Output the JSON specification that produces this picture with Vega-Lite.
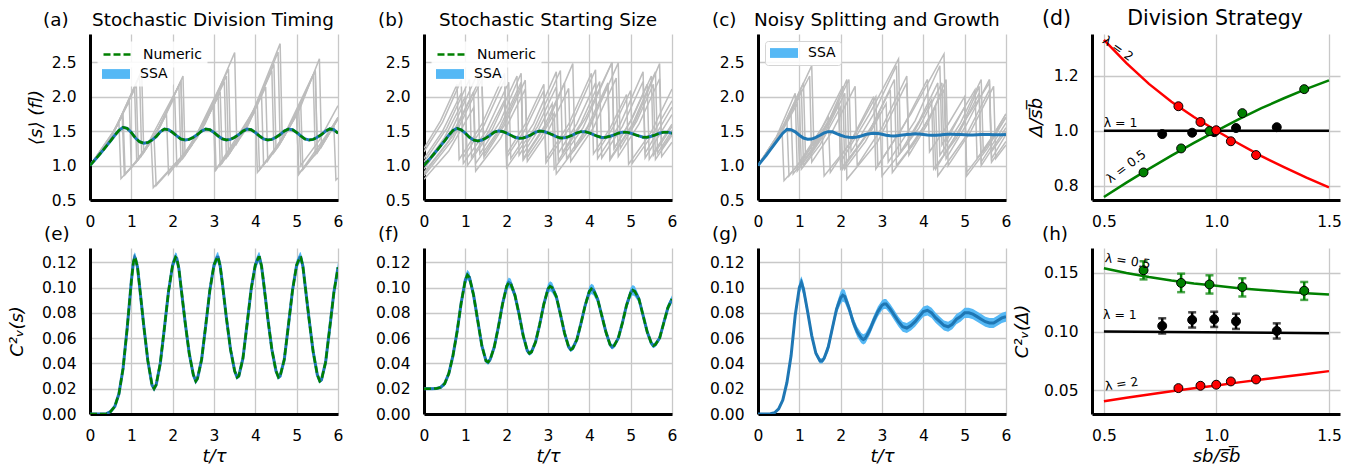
{
"$schema":"https://vega.github.io/schema/vega-lite/v6.json",
"padding":{"left":8,"top":8,"right":0,"bottom":0},
"config":{
 "font":"DejaVu Sans",
 "view":{"stroke":null},
 "axis":{"domainColor":"#000000","domainWidth":3,"ticks":false,"tickSize":0,"gridColor":"#c8c8c8","gridWidth":1.3,"labelFontSize":15.5,"labelColor":"#000000","labelPadding":14,"titleFontSize":18,"titleFontWeight":"normal","titleColor":"#000000","titleFontStyle":"italic","labelFlush":false,"labelOverlap":false,"titlePadding":8},
 "title":{"fontSize":18.4,"fontWeight":"normal","color":"#000000","anchor":"start","frame":"group","offset":5,"baseline":"alphabetic"},
 "legend":{"fillColor":"rgba(255,255,255,0.85)","strokeColor":"#d4d4d4","cornerRadius":3,"padding":5,"rowPadding":7,"labelOffset":17,"symbolOffset":7,"labelFontSize":14,"labelColor":"#000000","symbolSize":196},
 "line":{"strokeCap":"butt"}
},
"datasets":{
"trajA":[
{"k":1,"t":0,"v":1},{"k":1,"t":0.4,"v":1.32},{"k":1,"t":0.78,"v":1.72},{"k":1,"t":0.83,"v":0.86},{"k":1,"t":1.16,"v":1.08},{"k":1,"t":1.48,"v":1.35},{"k":1,"t":1.53,"v":0.68},{"k":1,"t":2.44,"v":1.28},{"k":1,"t":3.35,"v":2.4},{"k":1,"t":3.4,"v":1.2},{"k":1,"t":4.15,"v":2.02},{"k":1,"t":4.2,"v":1.01},{"k":1,"t":4.65,"v":1.37},{"k":1,"t":5.1,"v":1.87},{"k":1,"t":5.15,"v":0.94},{"k":1,"t":5.58,"v":1.26},{"k":1,"t":6,"v":1.68},
{"k":2,"t":0,"v":1},{"k":2,"t":0.54,"v":1.45},{"k":2,"t":1.08,"v":2.11},{"k":2,"t":1.13,"v":1.06},{"k":2,"t":1.66,"v":1.54},{"k":2,"t":2.2,"v":2.23},{"k":2,"t":2.25,"v":1.12},{"k":2,"t":2.98,"v":1.86},{"k":2,"t":3.03,"v":0.93},{"k":2,"t":3.82,"v":1.6},{"k":2,"t":4.6,"v":2.77},{"k":2,"t":4.65,"v":1.38},{"k":2,"t":5.4,"v":2.32},{"k":2,"t":5.45,"v":1.16},{"k":2,"t":6,"v":1.7},
{"k":3,"t":0,"v":1},{"k":3,"t":0.6,"v":1.52},{"k":3,"t":1.2,"v":2.3},{"k":3,"t":1.25,"v":1.15},{"k":3,"t":2.2,"v":2.22},{"k":3,"t":2.25,"v":1.11},{"k":3,"t":2.7,"v":1.52},{"k":3,"t":3.15,"v":2.07},{"k":3,"t":3.2,"v":1.04},{"k":3,"t":3.83,"v":1.6},{"k":3,"t":4.45,"v":2.47},{"k":3,"t":4.5,"v":1.24},{"k":3,"t":5,"v":1.75},{"k":3,"t":5.05,"v":0.88},{"k":3,"t":5.53,"v":1.23},{"k":3,"t":6,"v":1.7},
{"k":4,"t":0,"v":1},{"k":4,"t":0.48,"v":1.39},{"k":4,"t":0.95,"v":1.93},{"k":4,"t":1,"v":0.97},{"k":4,"t":1.58,"v":1.45},{"k":4,"t":2.15,"v":2.16},{"k":4,"t":2.2,"v":1.08},{"k":4,"t":3,"v":1.88},{"k":4,"t":3.05,"v":0.94},{"k":4,"t":4.05,"v":1.88},{"k":4,"t":4.1,"v":0.94},{"k":4,"t":4.78,"v":1.5},{"k":4,"t":5.45,"v":2.38},{"k":4,"t":5.5,"v":1.19},{"k":4,"t":6,"v":1.68},
{"k":5,"t":0,"v":1},{"k":5,"t":0.56,"v":1.47},{"k":5,"t":1.12,"v":2.17},{"k":5,"t":1.17,"v":1.09},{"k":5,"t":1.71,"v":1.58},{"k":5,"t":2.25,"v":2.3},{"k":5,"t":2.3,"v":1.15},{"k":5,"t":2.78,"v":1.6},{"k":5,"t":3.25,"v":2.22},{"k":5,"t":3.3,"v":1.11},{"k":5,"t":3.78,"v":1.53},{"k":5,"t":4.25,"v":2.14},{"k":5,"t":4.3,"v":1.07},{"k":5,"t":5,"v":1.74},{"k":5,"t":5.05,"v":0.87},{"k":5,"t":6,"v":1.68},
{"k":6,"t":0,"v":1},{"k":6,"t":0.4,"v":1.32},{"k":6,"t":0.8,"v":1.74},{"k":6,"t":0.85,"v":0.87},{"k":6,"t":1.2,"v":1.11},{"k":6,"t":1.55,"v":1.41},{"k":6,"t":1.6,"v":0.71},{"k":6,"t":2.45,"v":1.28},{"k":6,"t":3.3,"v":2.3},{"k":6,"t":3.35,"v":1.15},{"k":6,"t":3.95,"v":1.75},{"k":6,"t":4.55,"v":2.65},{"k":6,"t":4.6,"v":1.32},{"k":6,"t":5.08,"v":1.83},{"k":6,"t":5.55,"v":2.55},{"k":6,"t":5.6,"v":1.27},{"k":6,"t":6,"v":1.68},
{"k":7,"t":0,"v":1},{"k":7,"t":0.35,"v":1.27},{"k":7,"t":0.7,"v":1.62},{"k":7,"t":0.75,"v":0.81},{"k":7,"t":1.3,"v":1.19},{"k":7,"t":1.85,"v":1.74},{"k":7,"t":1.9,"v":0.87},{"k":7,"t":2.7,"v":1.52},{"k":7,"t":3.5,"v":2.64},{"k":7,"t":3.55,"v":1.32},{"k":7,"t":4,"v":1.8},{"k":7,"t":4.05,"v":0.9},{"k":7,"t":4.55,"v":1.27},{"k":7,"t":5.05,"v":1.8},{"k":7,"t":5.1,"v":1},{"k":7,"t":5.55,"v":1.37},{"k":7,"t":6,"v":1.87},
{"k":8,"t":0,"v":1},{"k":8,"t":0.63,"v":1.55},{"k":8,"t":1.25,"v":2.38},{"k":8,"t":1.3,"v":1.19},{"k":8,"t":1.68,"v":1.55},{"k":8,"t":2.05,"v":2},{"k":8,"t":2.1,"v":1},{"k":8,"t":2.6,"v":1.41},{"k":8,"t":3.1,"v":2},{"k":8,"t":3.15,"v":1},{"k":8,"t":3.78,"v":1.55},{"k":8,"t":4.4,"v":2.38},{"k":8,"t":4.45,"v":1.19},{"k":8,"t":4.95,"v":1.68},{"k":8,"t":5.45,"v":2.38},{"k":8,"t":5.5,"v":1.19},{"k":8,"t":5.9,"v":1.57},{"k":8,"t":5.95,"v":0.79},{"k":8,"t":6,"v":0.82}
],
"trajB":[
{"k":1,"t":0,"v":0.8},{"k":1,"t":0.6,"v":1.21},{"k":1,"t":1.2,"v":1.84},{"k":1,"t":1.25,"v":0.92},{"k":1,"t":1.85,"v":1.39},{"k":1,"t":2.45,"v":2.11},{"k":1,"t":2.5,"v":1.06},{"k":1,"t":3,"v":1.5},{"k":1,"t":3.5,"v":2.12},{"k":1,"t":3.55,"v":1.06},{"k":1,"t":4.1,"v":1.55},{"k":1,"t":4.65,"v":2.27},{"k":1,"t":4.7,"v":1.13},{"k":1,"t":5.2,"v":1.6},{"k":1,"t":5.7,"v":2.26},{"k":1,"t":5.75,"v":1.13},{"k":1,"t":6,"v":1.34},
{"k":2,"t":0,"v":0.9},{"k":2,"t":0.6,"v":1.36},{"k":2,"t":1.2,"v":2.07},{"k":2,"t":1.25,"v":1.03},{"k":2,"t":1.8,"v":1.51},{"k":2,"t":2.35,"v":2.21},{"k":2,"t":2.4,"v":1.1},{"k":2,"t":2.9,"v":1.56},{"k":2,"t":3.4,"v":2.2},{"k":2,"t":3.45,"v":1.1},{"k":2,"t":3.95,"v":1.56},{"k":2,"t":4.45,"v":2.2},{"k":2,"t":4.5,"v":1.1},{"k":2,"t":5.05,"v":1.61},{"k":2,"t":5.6,"v":2.36},{"k":2,"t":5.65,"v":1.18},{"k":2,"t":6,"v":1.51},
{"k":3,"t":0,"v":1},{"k":3,"t":0.5,"v":1.41},{"k":3,"t":1,"v":2},{"k":3,"t":1.05,"v":1},{"k":3,"t":1.65,"v":1.52},{"k":3,"t":2.25,"v":2.3},{"k":3,"t":2.3,"v":1.15},{"k":3,"t":2.75,"v":1.57},{"k":3,"t":3.2,"v":2.14},{"k":3,"t":3.25,"v":1.07},{"k":3,"t":3.9,"v":1.68},{"k":3,"t":4.55,"v":2.5},{"k":3,"t":4.6,"v":1.25},{"k":3,"t":5,"v":1.65},{"k":3,"t":5.4,"v":2.18},{"k":3,"t":5.45,"v":1.09},{"k":3,"t":6,"v":1.6},
{"k":4,"t":0,"v":1.1},{"k":4,"t":0.45,"v":1.5},{"k":4,"t":0.9,"v":2.05},{"k":4,"t":0.95,"v":1.03},{"k":4,"t":1.5,"v":1.5},{"k":4,"t":2.05,"v":2.21},{"k":4,"t":2.1,"v":1.1},{"k":4,"t":2.65,"v":1.61},{"k":4,"t":3.2,"v":2.36},{"k":4,"t":3.25,"v":1.18},{"k":4,"t":3.7,"v":1.61},{"k":4,"t":4.15,"v":2.2},{"k":4,"t":4.2,"v":1.1},{"k":4,"t":4.75,"v":1.61},{"k":4,"t":5.3,"v":2.36},{"k":4,"t":5.35,"v":1.18},{"k":4,"t":6,"v":1.85},
{"k":5,"t":0,"v":1.2},{"k":5,"t":0.45,"v":1.63},{"k":5,"t":0.9,"v":2.24},{"k":5,"t":0.95,"v":1.12},{"k":5,"t":1.45,"v":1.58},{"k":5,"t":1.95,"v":2.24},{"k":5,"t":2,"v":1.12},{"k":5,"t":2.45,"v":1.53},{"k":5,"t":2.9,"v":2.09},{"k":5,"t":2.95,"v":1.04},{"k":5,"t":3.55,"v":1.58},{"k":5,"t":4.15,"v":2.39},{"k":5,"t":4.2,"v":1.2},{"k":5,"t":4.6,"v":1.58},{"k":5,"t":5,"v":2.09},{"k":5,"t":5.05,"v":1.04},{"k":5,"t":5.55,"v":1.47},{"k":5,"t":6,"v":1.94},
{"k":6,"t":0,"v":0.85},{"k":6,"t":0.7,"v":1.38},{"k":6,"t":1.4,"v":2.25},{"k":6,"t":1.45,"v":1.12},{"k":6,"t":1.95,"v":1.59},{"k":6,"t":2.45,"v":2.24},{"k":6,"t":2.5,"v":1.12},{"k":6,"t":2.83,"v":1.41},{"k":6,"t":3.15,"v":1.76},{"k":6,"t":3.2,"v":0.88},{"k":6,"t":3.95,"v":1.48},{"k":6,"t":4.7,"v":2.49},{"k":6,"t":4.75,"v":1.25},{"k":6,"t":5.15,"v":1.65},{"k":6,"t":5.55,"v":2.18},{"k":6,"t":5.6,"v":1.09},{"k":6,"t":6,"v":1.44},
{"k":7,"t":0,"v":0.95},{"k":7,"t":0.65,"v":1.49},{"k":7,"t":1.3,"v":2.34},{"k":7,"t":1.35,"v":1.17},{"k":7,"t":1.85,"v":1.65},{"k":7,"t":2.35,"v":2.34},{"k":7,"t":2.4,"v":1.17},{"k":7,"t":2.75,"v":1.5},{"k":7,"t":3.1,"v":1.9},{"k":7,"t":3.15,"v":0.95},{"k":7,"t":3.85,"v":1.55},{"k":7,"t":4.55,"v":2.5},{"k":7,"t":4.6,"v":1.25},{"k":7,"t":5.05,"v":1.7},{"k":7,"t":5.5,"v":2.3},{"k":7,"t":5.55,"v":1.15},{"k":7,"t":6,"v":1.57},
{"k":8,"t":0,"v":1.05},{"k":8,"t":0.55,"v":1.54},{"k":8,"t":1.1,"v":2.25},{"k":8,"t":1.15,"v":1.12},{"k":8,"t":1.55,"v":1.48},{"k":8,"t":1.95,"v":1.95},{"k":8,"t":2,"v":0.97},{"k":8,"t":2.65,"v":1.52},{"k":8,"t":3.3,"v":2.38},{"k":8,"t":3.35,"v":1.19},{"k":8,"t":3.8,"v":1.62},{"k":8,"t":4.25,"v":2.22},{"k":8,"t":4.3,"v":1.11},{"k":8,"t":4.8,"v":1.57},{"k":8,"t":5.3,"v":2.22},{"k":8,"t":5.35,"v":1.11},{"k":8,"t":6,"v":1.74},
{"k":9,"t":0,"v":1.25},{"k":9,"t":0.4,"v":1.65},{"k":9,"t":0.8,"v":2.18},{"k":9,"t":0.85,"v":1.09},{"k":9,"t":1.4,"v":1.6},{"k":9,"t":1.95,"v":2.34},{"k":9,"t":2,"v":1.17},{"k":9,"t":2.45,"v":1.6},{"k":9,"t":2.9,"v":2.18},{"k":9,"t":2.95,"v":1.09},{"k":9,"t":3.5,"v":1.6},{"k":9,"t":4.05,"v":2.34},{"k":9,"t":4.1,"v":1.17},{"k":9,"t":4.5,"v":1.54},{"k":9,"t":4.9,"v":2.03},{"k":9,"t":4.95,"v":1.02},{"k":9,"t":5.5,"v":1.49},{"k":9,"t":6,"v":2.11},
{"k":10,"t":0,"v":0.88},{"k":10,"t":0.7,"v":1.43},{"k":10,"t":1.4,"v":2.32},{"k":10,"t":1.45,"v":1.16},{"k":10,"t":1.9,"v":1.58},{"k":10,"t":2.35,"v":2.16},{"k":10,"t":2.4,"v":1.08},{"k":10,"t":3,"v":1.63},{"k":10,"t":3.6,"v":2.48},{"k":10,"t":3.65,"v":1.24},{"k":10,"t":4.05,"v":1.64},{"k":10,"t":4.45,"v":2.16},{"k":10,"t":4.5,"v":1.08},{"k":10,"t":5.1,"v":1.63},{"k":10,"t":5.7,"v":2.48},{"k":10,"t":5.75,"v":1.24},{"k":10,"t":6,"v":1.47}
],
"trajC":[
{"k":1,"t":0,"v":1},{"k":1,"t":0.45,"v":1.42},{"k":1,"t":0.9,"v":2.05},{"k":1,"t":0.95,"v":0.92},{"k":1,"t":1.45,"v":1.33},{"k":1,"t":1.95,"v":1.9},{"k":1,"t":2,"v":1.05},{"k":1,"t":2.7,"v":1.75},{"k":1,"t":3.4,"v":2.55},{"k":1,"t":3.45,"v":1.2},{"k":1,"t":3.9,"v":1.65},{"k":1,"t":4.35,"v":2.2},{"k":1,"t":4.4,"v":1.15},{"k":1,"t":4.9,"v":1.62},{"k":1,"t":5.4,"v":2.25},{"k":1,"t":5.45,"v":1.2},{"k":1,"t":6,"v":1.7},
{"k":2,"t":0,"v":1},{"k":2,"t":0.3,"v":1.25},{"k":2,"t":0.58,"v":1.55},{"k":2,"t":0.63,"v":0.78},{"k":2,"t":1.1,"v":1.1},{"k":2,"t":1.55,"v":1.5},{"k":2,"t":1.6,"v":0.85},{"k":2,"t":2.2,"v":1.3},{"k":2,"t":2.8,"v":2},{"k":2,"t":2.85,"v":0.95},{"k":2,"t":3.7,"v":1.75},{"k":2,"t":4.5,"v":2.62},{"k":2,"t":4.55,"v":1.35},{"k":2,"t":5,"v":1.85},{"k":2,"t":5.05,"v":0.85},{"k":2,"t":5.55,"v":1.25},{"k":2,"t":6,"v":1.7},
{"k":3,"t":0,"v":1},{"k":3,"t":0.6,"v":1.55},{"k":3,"t":1.3,"v":2.45},{"k":3,"t":1.35,"v":1.3},{"k":3,"t":1.75,"v":1.7},{"k":3,"t":2.15,"v":2.25},{"k":3,"t":2.2,"v":1.1},{"k":3,"t":2.7,"v":1.5},{"k":3,"t":3.2,"v":2.1},{"k":3,"t":3.25,"v":0.9},{"k":3,"t":3.75,"v":1.3},{"k":3,"t":4.25,"v":1.8},{"k":3,"t":4.3,"v":0.95},{"k":3,"t":5,"v":1.65},{"k":3,"t":5.6,"v":2.2},{"k":3,"t":5.65,"v":1.05},{"k":3,"t":6,"v":1.35},
{"k":4,"t":0,"v":1},{"k":4,"t":0.5,"v":1.4},{"k":4,"t":1.05,"v":2.1},{"k":4,"t":1.1,"v":1},{"k":4,"t":1.6,"v":1.45},{"k":4,"t":2.1,"v":2.05},{"k":4,"t":2.15,"v":0.8},{"k":4,"t":2.9,"v":1.35},{"k":4,"t":3.6,"v":2.2},{"k":4,"t":3.65,"v":1.15},{"k":4,"t":4.1,"v":1.6},{"k":4,"t":4.55,"v":2.25},{"k":4,"t":4.6,"v":1},{"k":4,"t":5.15,"v":1.5},{"k":4,"t":5.7,"v":2.15},{"k":4,"t":5.75,"v":1.1},{"k":4,"t":6,"v":1.3},
{"k":5,"t":0,"v":1},{"k":5,"t":0.4,"v":1.3},{"k":5,"t":0.8,"v":1.75},{"k":5,"t":0.85,"v":0.88},{"k":5,"t":1.4,"v":1.3},{"k":5,"t":1.95,"v":1.92},{"k":5,"t":2,"v":0.95},{"k":5,"t":2.45,"v":1.3},{"k":5,"t":2.95,"v":1.75},{"k":5,"t":3,"v":0.85},{"k":5,"t":3.6,"v":1.3},{"k":5,"t":4.2,"v":1.95},{"k":5,"t":4.25,"v":0.95},{"k":5,"t":4.8,"v":1.4},{"k":5,"t":5.35,"v":2.05},{"k":5,"t":5.4,"v":1.05},{"k":5,"t":6,"v":1.62},
{"k":6,"t":0,"v":1},{"k":6,"t":0.55,"v":1.5},{"k":6,"t":1.1,"v":2.2},{"k":6,"t":1.15,"v":1.1},{"k":6,"t":1.65,"v":1.55},{"k":6,"t":2.2,"v":2.25},{"k":6,"t":2.25,"v":1.2},{"k":6,"t":2.8,"v":1.75},{"k":6,"t":3.35,"v":2.45},{"k":6,"t":3.4,"v":1.15},{"k":6,"t":3.9,"v":1.55},{"k":6,"t":4.45,"v":2.2},{"k":6,"t":4.5,"v":1.15},{"k":6,"t":4.95,"v":1.6},{"k":6,"t":5.35,"v":2.15},{"k":6,"t":5.4,"v":1},{"k":6,"t":6,"v":1.55},
{"k":7,"t":0,"v":1},{"k":7,"t":0.35,"v":1.3},{"k":7,"t":0.7,"v":1.65},{"k":7,"t":0.75,"v":0.85},{"k":7,"t":1.2,"v":1.2},{"k":7,"t":1.7,"v":1.7},{"k":7,"t":1.75,"v":0.9},{"k":7,"t":2.3,"v":1.4},{"k":7,"t":2.85,"v":2},{"k":7,"t":2.9,"v":1},{"k":7,"t":3.5,"v":1.55},{"k":7,"t":4.1,"v":2.25},{"k":7,"t":4.15,"v":1.2},{"k":7,"t":4.6,"v":1.6},{"k":7,"t":5,"v":2},{"k":7,"t":5.05,"v":0.9},{"k":7,"t":5.5,"v":1.25},{"k":7,"t":6,"v":1.75},
{"k":8,"t":0,"v":1},{"k":8,"t":0.65,"v":1.6},{"k":8,"t":1.25,"v":2.3},{"k":8,"t":1.3,"v":1.05},{"k":8,"t":1.8,"v":1.5},{"k":8,"t":2.35,"v":2.15},{"k":8,"t":2.4,"v":1},{"k":8,"t":3,"v":1.55},{"k":8,"t":3.6,"v":2.3},{"k":8,"t":3.65,"v":1.25},{"k":8,"t":4.05,"v":1.6},{"k":8,"t":4.5,"v":2.1},{"k":8,"t":4.55,"v":1.1},{"k":8,"t":5.05,"v":1.6},{"k":8,"t":5.6,"v":2.25},{"k":8,"t":5.65,"v":1.2},{"k":8,"t":6,"v":1.5},
{"k":9,"t":0,"v":1},{"k":9,"t":0.45,"v":1.35},{"k":9,"t":0.95,"v":1.9},{"k":9,"t":1,"v":1.05},{"k":9,"t":1.55,"v":1.55},{"k":9,"t":2.05,"v":2.15},{"k":9,"t":2.1,"v":0.95},{"k":9,"t":2.6,"v":1.35},{"k":9,"t":3.1,"v":1.9},{"k":9,"t":3.15,"v":1.05},{"k":9,"t":3.8,"v":1.65},{"k":9,"t":4.4,"v":2.45},{"k":9,"t":4.45,"v":1.3},{"k":9,"t":4.85,"v":1.7},{"k":9,"t":5.25,"v":2.1},{"k":9,"t":5.3,"v":1.1},{"k":9,"t":5.7,"v":1.45},{"k":9,"t":6,"v":1.75},
{"k":10,"t":0,"v":1},{"k":10,"t":0.5,"v":1.45},{"k":10,"t":1,"v":2},{"k":10,"t":1.05,"v":0.95},{"k":10,"t":1.5,"v":1.3},{"k":10,"t":2,"v":1.85},{"k":10,"t":2.05,"v":0.95},{"k":10,"t":2.7,"v":1.5},{"k":10,"t":3.3,"v":2.25},{"k":10,"t":3.35,"v":1},{"k":10,"t":3.8,"v":1.35},{"k":10,"t":4.3,"v":1.85},{"k":10,"t":4.35,"v":0.85},{"k":10,"t":5,"v":1.4},{"k":10,"t":5.6,"v":2.1},{"k":10,"t":5.65,"v":1.1},{"k":10,"t":6,"v":1.45}
],
"meanA":[
{"t":0,"v":1,"lo":0.99,"hi":1.01},{"t":0.1,"v":1.07,"lo":1.06,"hi":1.08},{"t":0.2,"v":1.14,"lo":1.13,"hi":1.15},{"t":0.3,"v":1.21,"lo":1.2,"hi":1.22},{"t":0.4,"v":1.285,"lo":1.275,"hi":1.295},{"t":0.5,"v":1.36,"lo":1.35,"hi":1.37},{"t":0.6,"v":1.44,"lo":1.43,"hi":1.45},{"t":0.7,"v":1.51,"lo":1.5,"hi":1.52},{"t":0.8,"v":1.555,"lo":1.545,"hi":1.565},{"t":0.9,"v":1.54,"lo":1.53,"hi":1.55},
{"t":1,"v":1.48,"lo":1.47,"hi":1.49},{"t":1.1,"v":1.4,"lo":1.39,"hi":1.41},{"t":1.2,"v":1.345,"lo":1.335,"hi":1.355},{"t":1.3,"v":1.325,"lo":1.315,"hi":1.335},{"t":1.4,"v":1.335,"lo":1.325,"hi":1.345},{"t":1.5,"v":1.37,"lo":1.36,"hi":1.38},{"t":1.6,"v":1.42,"lo":1.41,"hi":1.43},{"t":1.7,"v":1.49,"lo":1.48,"hi":1.5},{"t":1.8,"v":1.53,"lo":1.52,"hi":1.54},{"t":1.9,"v":1.52,"lo":1.51,"hi":1.53},
{"t":2,"v":1.48,"lo":1.47,"hi":1.49},{"t":2.1,"v":1.43,"lo":1.42,"hi":1.44},{"t":2.2,"v":1.385,"lo":1.375,"hi":1.395},{"t":2.3,"v":1.372,"lo":1.362,"hi":1.382},{"t":2.4,"v":1.38,"lo":1.37,"hi":1.39},{"t":2.5,"v":1.41,"lo":1.4,"hi":1.42},{"t":2.6,"v":1.45,"lo":1.44,"hi":1.46},{"t":2.7,"v":1.5,"lo":1.49,"hi":1.51},{"t":2.8,"v":1.53,"lo":1.52,"hi":1.54},{"t":2.9,"v":1.52,"lo":1.51,"hi":1.53},
{"t":3,"v":1.48,"lo":1.47,"hi":1.49},{"t":3.1,"v":1.43,"lo":1.42,"hi":1.44},{"t":3.2,"v":1.388,"lo":1.378,"hi":1.398},{"t":3.3,"v":1.373,"lo":1.363,"hi":1.383},{"t":3.4,"v":1.38,"lo":1.37,"hi":1.39},{"t":3.5,"v":1.41,"lo":1.4,"hi":1.42},{"t":3.6,"v":1.45,"lo":1.44,"hi":1.46},{"t":3.7,"v":1.5,"lo":1.49,"hi":1.51},{"t":3.8,"v":1.53,"lo":1.52,"hi":1.54},{"t":3.9,"v":1.52,"lo":1.51,"hi":1.53},
{"t":4,"v":1.48,"lo":1.47,"hi":1.49},{"t":4.1,"v":1.43,"lo":1.42,"hi":1.44},{"t":4.2,"v":1.387,"lo":1.377,"hi":1.397},{"t":4.3,"v":1.372,"lo":1.362,"hi":1.382},{"t":4.4,"v":1.38,"lo":1.37,"hi":1.39},{"t":4.5,"v":1.41,"lo":1.4,"hi":1.42},{"t":4.6,"v":1.45,"lo":1.44,"hi":1.46},{"t":4.7,"v":1.5,"lo":1.49,"hi":1.51},{"t":4.8,"v":1.53,"lo":1.52,"hi":1.54},{"t":4.9,"v":1.52,"lo":1.51,"hi":1.53},
{"t":5,"v":1.48,"lo":1.47,"hi":1.49},{"t":5.1,"v":1.43,"lo":1.42,"hi":1.44},{"t":5.2,"v":1.386,"lo":1.376,"hi":1.396},{"t":5.3,"v":1.372,"lo":1.362,"hi":1.382},{"t":5.4,"v":1.38,"lo":1.37,"hi":1.39},{"t":5.5,"v":1.41,"lo":1.4,"hi":1.42},{"t":5.6,"v":1.45,"lo":1.44,"hi":1.46},{"t":5.7,"v":1.5,"lo":1.49,"hi":1.51},{"t":5.8,"v":1.532,"lo":1.522,"hi":1.542},{"t":5.9,"v":1.52,"lo":1.51,"hi":1.53},{"t":6,"v":1.47,"lo":1.46,"hi":1.48}
],
"meanB":[
{"t":0,"v":1,"lo":0.99,"hi":1.01},{"t":0.1,"v":1.07,"lo":1.06,"hi":1.08},{"t":0.2,"v":1.14,"lo":1.13,"hi":1.15},{"t":0.3,"v":1.21,"lo":1.2,"hi":1.22},{"t":0.4,"v":1.285,"lo":1.275,"hi":1.295},{"t":0.5,"v":1.36,"lo":1.35,"hi":1.37},{"t":0.6,"v":1.44,"lo":1.43,"hi":1.45},{"t":0.7,"v":1.51,"lo":1.5,"hi":1.52},{"t":0.8,"v":1.54,"lo":1.53,"hi":1.55},{"t":0.9,"v":1.52,"lo":1.51,"hi":1.53},
{"t":1,"v":1.47,"lo":1.46,"hi":1.48},{"t":1.1,"v":1.41,"lo":1.4,"hi":1.42},{"t":1.2,"v":1.37,"lo":1.36,"hi":1.38},{"t":1.3,"v":1.358,"lo":1.348,"hi":1.368},{"t":1.4,"v":1.37,"lo":1.36,"hi":1.38},{"t":1.5,"v":1.4,"lo":1.39,"hi":1.41},{"t":1.6,"v":1.44,"lo":1.43,"hi":1.45},{"t":1.7,"v":1.485,"lo":1.475,"hi":1.495},{"t":1.8,"v":1.503,"lo":1.493,"hi":1.513},{"t":1.9,"v":1.495,"lo":1.485,"hi":1.505},
{"t":2,"v":1.47,"lo":1.46,"hi":1.48},{"t":2.1,"v":1.44,"lo":1.43,"hi":1.45},{"t":2.2,"v":1.41,"lo":1.4,"hi":1.42},{"t":2.3,"v":1.397,"lo":1.387,"hi":1.407},{"t":2.4,"v":1.4,"lo":1.39,"hi":1.41},{"t":2.5,"v":1.42,"lo":1.41,"hi":1.43},{"t":2.6,"v":1.45,"lo":1.44,"hi":1.46},{"t":2.7,"v":1.485,"lo":1.475,"hi":1.495},{"t":2.8,"v":1.5,"lo":1.49,"hi":1.51},{"t":2.9,"v":1.495,"lo":1.485,"hi":1.505},
{"t":3,"v":1.475,"lo":1.465,"hi":1.485},{"t":3.1,"v":1.45,"lo":1.44,"hi":1.46},{"t":3.2,"v":1.42,"lo":1.41,"hi":1.43},{"t":3.3,"v":1.4,"lo":1.39,"hi":1.41},{"t":3.4,"v":1.402,"lo":1.392,"hi":1.412},{"t":3.5,"v":1.42,"lo":1.41,"hi":1.43},{"t":3.6,"v":1.445,"lo":1.435,"hi":1.455},{"t":3.7,"v":1.475,"lo":1.465,"hi":1.485},{"t":3.8,"v":1.492,"lo":1.482,"hi":1.502},{"t":3.9,"v":1.49,"lo":1.48,"hi":1.5},
{"t":4,"v":1.475,"lo":1.465,"hi":1.485},{"t":4.1,"v":1.45,"lo":1.44,"hi":1.46},{"t":4.2,"v":1.425,"lo":1.415,"hi":1.435},{"t":4.3,"v":1.408,"lo":1.398,"hi":1.418},{"t":4.4,"v":1.41,"lo":1.4,"hi":1.42},{"t":4.5,"v":1.425,"lo":1.415,"hi":1.435},{"t":4.6,"v":1.445,"lo":1.435,"hi":1.455},{"t":4.7,"v":1.47,"lo":1.46,"hi":1.48},{"t":4.8,"v":1.485,"lo":1.475,"hi":1.495},{"t":4.9,"v":1.485,"lo":1.475,"hi":1.495},
{"t":5,"v":1.47,"lo":1.46,"hi":1.48},{"t":5.1,"v":1.45,"lo":1.44,"hi":1.46},{"t":5.2,"v":1.43,"lo":1.42,"hi":1.44},{"t":5.3,"v":1.412,"lo":1.402,"hi":1.422},{"t":5.4,"v":1.412,"lo":1.402,"hi":1.422},{"t":5.5,"v":1.425,"lo":1.415,"hi":1.435},{"t":5.6,"v":1.445,"lo":1.435,"hi":1.455},{"t":5.7,"v":1.47,"lo":1.46,"hi":1.48},{"t":5.8,"v":1.485,"lo":1.475,"hi":1.495},{"t":5.9,"v":1.485,"lo":1.475,"hi":1.495},{"t":6,"v":1.47,"lo":1.46,"hi":1.48}
],
"meanC":[
{"t":0,"v":1,"lo":0.99,"hi":1.01},{"t":0.1,"v":1.075,"lo":1.065,"hi":1.085},{"t":0.2,"v":1.15,"lo":1.14,"hi":1.16},{"t":0.3,"v":1.23,"lo":1.22,"hi":1.24},{"t":0.4,"v":1.31,"lo":1.3,"hi":1.32},{"t":0.5,"v":1.39,"lo":1.38,"hi":1.4},{"t":0.6,"v":1.47,"lo":1.46,"hi":1.48},{"t":0.7,"v":1.525,"lo":1.515,"hi":1.535},{"t":0.8,"v":1.52,"lo":1.51,"hi":1.53},{"t":0.9,"v":1.49,"lo":1.48,"hi":1.5},
{"t":1,"v":1.44,"lo":1.43,"hi":1.45},{"t":1.1,"v":1.4,"lo":1.39,"hi":1.41},{"t":1.2,"v":1.383,"lo":1.373,"hi":1.393},{"t":1.3,"v":1.385,"lo":1.375,"hi":1.395},{"t":1.4,"v":1.41,"lo":1.4,"hi":1.42},{"t":1.5,"v":1.44,"lo":1.43,"hi":1.45},{"t":1.6,"v":1.475,"lo":1.465,"hi":1.485},{"t":1.7,"v":1.492,"lo":1.482,"hi":1.502},{"t":1.8,"v":1.49,"lo":1.48,"hi":1.5},{"t":1.9,"v":1.465,"lo":1.455,"hi":1.475},
{"t":2,"v":1.44,"lo":1.43,"hi":1.45},{"t":2.1,"v":1.42,"lo":1.41,"hi":1.43},{"t":2.2,"v":1.41,"lo":1.4,"hi":1.42},{"t":2.3,"v":1.408,"lo":1.398,"hi":1.418},{"t":2.4,"v":1.415,"lo":1.405,"hi":1.425},{"t":2.5,"v":1.43,"lo":1.42,"hi":1.44},{"t":2.6,"v":1.45,"lo":1.44,"hi":1.46},{"t":2.7,"v":1.462,"lo":1.452,"hi":1.472},{"t":2.8,"v":1.468,"lo":1.458,"hi":1.478},{"t":2.9,"v":1.465,"lo":1.455,"hi":1.475},
{"t":3,"v":1.455,"lo":1.445,"hi":1.465},{"t":3.1,"v":1.44,"lo":1.43,"hi":1.45},{"t":3.2,"v":1.432,"lo":1.422,"hi":1.442},{"t":3.3,"v":1.43,"lo":1.42,"hi":1.44},{"t":3.4,"v":1.435,"lo":1.425,"hi":1.445},{"t":3.5,"v":1.443,"lo":1.433,"hi":1.453},{"t":3.6,"v":1.45,"lo":1.44,"hi":1.46},{"t":3.7,"v":1.455,"lo":1.445,"hi":1.465},{"t":3.8,"v":1.46,"lo":1.45,"hi":1.47},{"t":3.9,"v":1.458,"lo":1.448,"hi":1.468},
{"t":4,"v":1.452,"lo":1.442,"hi":1.462},{"t":4.1,"v":1.445,"lo":1.435,"hi":1.455},{"t":4.2,"v":1.44,"lo":1.43,"hi":1.45},{"t":4.3,"v":1.44,"lo":1.43,"hi":1.45},{"t":4.4,"v":1.445,"lo":1.435,"hi":1.455},{"t":4.5,"v":1.45,"lo":1.44,"hi":1.46},{"t":4.6,"v":1.455,"lo":1.445,"hi":1.465},{"t":4.7,"v":1.455,"lo":1.445,"hi":1.465},{"t":4.8,"v":1.452,"lo":1.442,"hi":1.462},{"t":4.9,"v":1.45,"lo":1.44,"hi":1.46},
{"t":5,"v":1.447,"lo":1.437,"hi":1.457},{"t":5.1,"v":1.445,"lo":1.435,"hi":1.455},{"t":5.2,"v":1.445,"lo":1.435,"hi":1.455},{"t":5.3,"v":1.447,"lo":1.437,"hi":1.457},{"t":5.4,"v":1.45,"lo":1.44,"hi":1.46},{"t":5.5,"v":1.45,"lo":1.44,"hi":1.46},{"t":5.6,"v":1.45,"lo":1.44,"hi":1.46},{"t":5.7,"v":1.448,"lo":1.438,"hi":1.458},{"t":5.8,"v":1.447,"lo":1.437,"hi":1.457},{"t":5.9,"v":1.448,"lo":1.438,"hi":1.458},{"t":6,"v":1.45,"lo":1.44,"hi":1.46}
],
"cvE":[
{"t":0,"v":0,"lo":0,"hi":0.0005},{"t":0.1,"v":0,"lo":0,"hi":0.0005},{"t":0.2,"v":0,"lo":0,"hi":0.0005},{"t":0.3,"v":0,"lo":0,"hi":0.0005},{"t":0.4,"v":0.0003,"lo":0,"hi":0.0008},{"t":0.5,"v":0.002,"lo":0.0015,"hi":0.0025},{"t":0.6,"v":0.006,"lo":0.005,"hi":0.007},{"t":0.7,"v":0.016,"lo":0.0145,"hi":0.0175},{"t":0.8,"v":0.036,"lo":0.0345,"hi":0.0375},{"t":0.9,"v":0.068,"lo":0.0655,"hi":0.0705},
{"t":1,"v":0.105,"lo":0.101,"hi":0.109},{"t":1.05,"v":0.12,"lo":0.116,"hi":0.124},{"t":1.08,"v":0.124,"lo":0.12,"hi":0.128},{"t":1.1,"v":0.123,"lo":0.119,"hi":0.127},{"t":1.15,"v":0.116,"lo":0.112,"hi":0.12},{"t":1.2,"v":0.101,"lo":0.097,"hi":0.105},{"t":1.3,"v":0.07,"lo":0.0675,"hi":0.0725},{"t":1.4,"v":0.042,"lo":0.0405,"hi":0.0435},{"t":1.5,"v":0.023,"lo":0.0215,"hi":0.0245},{"t":1.55,"v":0.02,"lo":0.0185,"hi":0.0215},{"t":1.6,"v":0.023,"lo":0.0215,"hi":0.0245},{"t":1.7,"v":0.04,"lo":0.0385,"hi":0.0415},{"t":1.8,"v":0.068,"lo":0.0655,"hi":0.0705},{"t":1.9,"v":0.097,"lo":0.0945,"hi":0.0995},
{"t":2,"v":0.118,"lo":0.114,"hi":0.122},{"t":2.07,"v":0.124,"lo":0.12,"hi":0.128},{"t":2.1,"v":0.123,"lo":0.119,"hi":0.127},{"t":2.15,"v":0.115,"lo":0.111,"hi":0.119},{"t":2.2,"v":0.101,"lo":0.097,"hi":0.105},{"t":2.3,"v":0.073,"lo":0.0705,"hi":0.0755},{"t":2.4,"v":0.048,"lo":0.0465,"hi":0.0495},{"t":2.5,"v":0.031,"lo":0.0295,"hi":0.0325},{"t":2.56,"v":0.026,"lo":0.0245,"hi":0.0275},{"t":2.6,"v":0.028,"lo":0.0265,"hi":0.0295},{"t":2.7,"v":0.043,"lo":0.0415,"hi":0.0445},{"t":2.8,"v":0.07,"lo":0.0675,"hi":0.0725},{"t":2.9,"v":0.098,"lo":0.0955,"hi":0.1005},
{"t":3,"v":0.118,"lo":0.114,"hi":0.122},{"t":3.08,"v":0.124,"lo":0.12,"hi":0.128},{"t":3.1,"v":0.124,"lo":0.12,"hi":0.128},{"t":3.15,"v":0.117,"lo":0.113,"hi":0.121},{"t":3.2,"v":0.104,"lo":0.1,"hi":0.108},{"t":3.3,"v":0.076,"lo":0.0735,"hi":0.0785},{"t":3.4,"v":0.051,"lo":0.0495,"hi":0.0525},{"t":3.5,"v":0.034,"lo":0.0325,"hi":0.0355},{"t":3.56,"v":0.029,"lo":0.0275,"hi":0.0305},{"t":3.6,"v":0.03,"lo":0.0285,"hi":0.0315},{"t":3.7,"v":0.044,"lo":0.0425,"hi":0.0455},{"t":3.8,"v":0.071,"lo":0.0685,"hi":0.0735},{"t":3.9,"v":0.099,"lo":0.0965,"hi":0.1015},
{"t":4,"v":0.118,"lo":0.114,"hi":0.122},{"t":4.08,"v":0.124,"lo":0.12,"hi":0.128},{"t":4.1,"v":0.124,"lo":0.12,"hi":0.128},{"t":4.15,"v":0.117,"lo":0.113,"hi":0.121},{"t":4.2,"v":0.104,"lo":0.1,"hi":0.108},{"t":4.3,"v":0.076,"lo":0.0735,"hi":0.0785},{"t":4.4,"v":0.051,"lo":0.0495,"hi":0.0525},{"t":4.5,"v":0.034,"lo":0.0325,"hi":0.0355},{"t":4.56,"v":0.029,"lo":0.0275,"hi":0.0305},{"t":4.6,"v":0.03,"lo":0.0285,"hi":0.0315},{"t":4.7,"v":0.043,"lo":0.0415,"hi":0.0445},{"t":4.8,"v":0.07,"lo":0.0675,"hi":0.0725},{"t":4.9,"v":0.098,"lo":0.0955,"hi":0.1005},
{"t":5,"v":0.118,"lo":0.114,"hi":0.122},{"t":5.08,"v":0.124,"lo":0.12,"hi":0.128},{"t":5.1,"v":0.124,"lo":0.12,"hi":0.128},{"t":5.15,"v":0.117,"lo":0.113,"hi":0.121},{"t":5.2,"v":0.103,"lo":0.099,"hi":0.107},{"t":5.3,"v":0.075,"lo":0.0725,"hi":0.0775},{"t":5.4,"v":0.049,"lo":0.0475,"hi":0.0505},{"t":5.5,"v":0.031,"lo":0.0295,"hi":0.0325},{"t":5.56,"v":0.026,"lo":0.0245,"hi":0.0275},{"t":5.6,"v":0.027,"lo":0.0255,"hi":0.0285},{"t":5.7,"v":0.041,"lo":0.0395,"hi":0.0425},{"t":5.8,"v":0.068,"lo":0.0655,"hi":0.0705},{"t":5.9,"v":0.096,"lo":0.0935,"hi":0.0985},{"t":6,"v":0.116,"lo":0.112,"hi":0.12}
],
"cvF":[
{"t":0,"v":0.02,"lo":0.019,"hi":0.021},{"t":0.1,"v":0.02,"lo":0.019,"hi":0.021},{"t":0.2,"v":0.02,"lo":0.019,"hi":0.021},{"t":0.3,"v":0.0202,"lo":0.0192,"hi":0.0212},{"t":0.4,"v":0.021,"lo":0.02,"hi":0.022},{"t":0.5,"v":0.024,"lo":0.022,"hi":0.026},{"t":0.6,"v":0.032,"lo":0.03,"hi":0.034},{"t":0.7,"v":0.046,"lo":0.044,"hi":0.048},{"t":0.8,"v":0.065,"lo":0.062,"hi":0.068},{"t":0.9,"v":0.088,"lo":0.085,"hi":0.091},
{"t":1,"v":0.106,"lo":0.102,"hi":0.11},{"t":1.05,"v":0.11,"lo":0.106,"hi":0.114},{"t":1.1,"v":0.108,"lo":0.104,"hi":0.112},{"t":1.2,"v":0.094,"lo":0.091,"hi":0.097},{"t":1.3,"v":0.074,"lo":0.071,"hi":0.077},{"t":1.4,"v":0.054,"lo":0.052,"hi":0.056},{"t":1.5,"v":0.042,"lo":0.04,"hi":0.044},{"t":1.55,"v":0.041,"lo":0.039,"hi":0.043},{"t":1.6,"v":0.043,"lo":0.041,"hi":0.045},{"t":1.7,"v":0.053,"lo":0.051,"hi":0.055},{"t":1.8,"v":0.069,"lo":0.066,"hi":0.072},{"t":1.9,"v":0.087,"lo":0.084,"hi":0.09},
{"t":2,"v":0.101,"lo":0.097,"hi":0.105},{"t":2.05,"v":0.104,"lo":0.1,"hi":0.108},{"t":2.1,"v":0.103,"lo":0.099,"hi":0.107},{"t":2.2,"v":0.094,"lo":0.091,"hi":0.097},{"t":2.3,"v":0.079,"lo":0.076,"hi":0.082},{"t":2.4,"v":0.062,"lo":0.059,"hi":0.065},{"t":2.5,"v":0.05,"lo":0.048,"hi":0.052},{"t":2.55,"v":0.048,"lo":0.046,"hi":0.05},{"t":2.6,"v":0.049,"lo":0.047,"hi":0.051},{"t":2.7,"v":0.057,"lo":0.055,"hi":0.059},{"t":2.8,"v":0.071,"lo":0.068,"hi":0.074},{"t":2.9,"v":0.087,"lo":0.084,"hi":0.09},
{"t":3,"v":0.099,"lo":0.095,"hi":0.103},{"t":3.05,"v":0.101,"lo":0.097,"hi":0.105},{"t":3.1,"v":0.1,"lo":0.096,"hi":0.104},{"t":3.2,"v":0.093,"lo":0.09,"hi":0.096},{"t":3.3,"v":0.079,"lo":0.076,"hi":0.082},{"t":3.4,"v":0.064,"lo":0.061,"hi":0.067},{"t":3.5,"v":0.053,"lo":0.051,"hi":0.055},{"t":3.55,"v":0.051,"lo":0.049,"hi":0.053},{"t":3.6,"v":0.052,"lo":0.05,"hi":0.054},{"t":3.7,"v":0.059,"lo":0.057,"hi":0.061},{"t":3.8,"v":0.072,"lo":0.069,"hi":0.075},{"t":3.9,"v":0.086,"lo":0.083,"hi":0.089},
{"t":4,"v":0.097,"lo":0.093,"hi":0.101},{"t":4.05,"v":0.099,"lo":0.095,"hi":0.103},{"t":4.1,"v":0.098,"lo":0.094,"hi":0.102},{"t":4.2,"v":0.091,"lo":0.088,"hi":0.094},{"t":4.3,"v":0.078,"lo":0.075,"hi":0.081},{"t":4.4,"v":0.065,"lo":0.062,"hi":0.068},{"t":4.5,"v":0.055,"lo":0.053,"hi":0.057},{"t":4.55,"v":0.053,"lo":0.051,"hi":0.055},{"t":4.6,"v":0.054,"lo":0.052,"hi":0.056},{"t":4.7,"v":0.06,"lo":0.058,"hi":0.062},{"t":4.8,"v":0.072,"lo":0.069,"hi":0.075},{"t":4.9,"v":0.086,"lo":0.083,"hi":0.089},
{"t":5,"v":0.096,"lo":0.092,"hi":0.1},{"t":5.05,"v":0.098,"lo":0.094,"hi":0.102},{"t":5.1,"v":0.097,"lo":0.093,"hi":0.101},{"t":5.2,"v":0.091,"lo":0.088,"hi":0.094},{"t":5.3,"v":0.078,"lo":0.075,"hi":0.081},{"t":5.4,"v":0.065,"lo":0.062,"hi":0.068},{"t":5.5,"v":0.056,"lo":0.054,"hi":0.058},{"t":5.55,"v":0.054,"lo":0.052,"hi":0.056},{"t":5.6,"v":0.055,"lo":0.053,"hi":0.057},{"t":5.7,"v":0.06,"lo":0.058,"hi":0.062},{"t":5.8,"v":0.072,"lo":0.069,"hi":0.075},{"t":5.9,"v":0.084,"lo":0.081,"hi":0.087},{"t":6,"v":0.091,"lo":0.088,"hi":0.094}
],
"cvG":[
{"t":0,"v":0,"lo":0,"hi":0.0005},{"t":0.1,"v":0,"lo":0,"hi":0.0005},{"t":0.2,"v":0,"lo":0,"hi":0.0005},{"t":0.3,"v":0.0003,"lo":0,"hi":0.0008},{"t":0.4,"v":0.001,"lo":0.0005,"hi":0.0015},{"t":0.5,"v":0.004,"lo":0.0035,"hi":0.0045},{"t":0.6,"v":0.011,"lo":0.009,"hi":0.013},{"t":0.7,"v":0.025,"lo":0.023,"hi":0.027},{"t":0.8,"v":0.046,"lo":0.044,"hi":0.048},{"t":0.9,"v":0.078,"lo":0.074,"hi":0.082},
{"t":1,"v":0.1,"lo":0.095,"hi":0.105},{"t":1.05,"v":0.104,"lo":0.099,"hi":0.109},{"t":1.1,"v":0.099,"lo":0.094,"hi":0.104},{"t":1.2,"v":0.081,"lo":0.077,"hi":0.085},{"t":1.3,"v":0.062,"lo":0.058,"hi":0.066},{"t":1.4,"v":0.048,"lo":0.046,"hi":0.05},{"t":1.5,"v":0.042,"lo":0.04,"hi":0.044},{"t":1.55,"v":0.042,"lo":0.04,"hi":0.044},{"t":1.6,"v":0.044,"lo":0.042,"hi":0.046},{"t":1.7,"v":0.053,"lo":0.049,"hi":0.057},{"t":1.8,"v":0.068,"lo":0.064,"hi":0.072},{"t":1.9,"v":0.083,"lo":0.079,"hi":0.087},
{"t":2,"v":0.092,"lo":0.087,"hi":0.097},{"t":2.05,"v":0.094,"lo":0.089,"hi":0.099},{"t":2.1,"v":0.093,"lo":0.088,"hi":0.098},{"t":2.2,"v":0.084,"lo":0.08,"hi":0.088},{"t":2.3,"v":0.073,"lo":0.069,"hi":0.077},{"t":2.4,"v":0.065,"lo":0.061,"hi":0.069},{"t":2.5,"v":0.06,"lo":0.056,"hi":0.064},{"t":2.55,"v":0.059,"lo":0.055,"hi":0.063},{"t":2.6,"v":0.06,"lo":0.056,"hi":0.064},{"t":2.7,"v":0.066,"lo":0.062,"hi":0.07},{"t":2.8,"v":0.074,"lo":0.07,"hi":0.078},{"t":2.9,"v":0.081,"lo":0.077,"hi":0.085},
{"t":3,"v":0.086,"lo":0.082,"hi":0.09},{"t":3.05,"v":0.087,"lo":0.083,"hi":0.091},{"t":3.1,"v":0.087,"lo":0.083,"hi":0.091},{"t":3.2,"v":0.083,"lo":0.079,"hi":0.087},{"t":3.3,"v":0.078,"lo":0.074,"hi":0.082},{"t":3.4,"v":0.073,"lo":0.069,"hi":0.077},{"t":3.5,"v":0.069,"lo":0.065,"hi":0.073},{"t":3.6,"v":0.068,"lo":0.064,"hi":0.072},{"t":3.7,"v":0.07,"lo":0.066,"hi":0.074},{"t":3.8,"v":0.073,"lo":0.069,"hi":0.077},{"t":3.9,"v":0.077,"lo":0.073,"hi":0.081},
{"t":4,"v":0.081,"lo":0.077,"hi":0.085},{"t":4.1,"v":0.082,"lo":0.078,"hi":0.086},{"t":4.2,"v":0.08,"lo":0.076,"hi":0.084},{"t":4.3,"v":0.076,"lo":0.072,"hi":0.08},{"t":4.4,"v":0.073,"lo":0.069,"hi":0.077},{"t":4.5,"v":0.07,"lo":0.066,"hi":0.074},{"t":4.6,"v":0.069,"lo":0.065,"hi":0.073},{"t":4.7,"v":0.071,"lo":0.067,"hi":0.075},{"t":4.8,"v":0.075,"lo":0.071,"hi":0.079},{"t":4.9,"v":0.077,"lo":0.073,"hi":0.081},
{"t":5,"v":0.08,"lo":0.076,"hi":0.084},{"t":5.1,"v":0.08,"lo":0.076,"hi":0.084},{"t":5.2,"v":0.079,"lo":0.075,"hi":0.083},{"t":5.3,"v":0.077,"lo":0.073,"hi":0.081},{"t":5.4,"v":0.075,"lo":0.071,"hi":0.079},{"t":5.5,"v":0.073,"lo":0.069,"hi":0.077},{"t":5.6,"v":0.072,"lo":0.068,"hi":0.076},{"t":5.7,"v":0.072,"lo":0.068,"hi":0.076},{"t":5.8,"v":0.074,"lo":0.07,"hi":0.078},{"t":5.9,"v":0.076,"lo":0.072,"hi":0.08},{"t":6,"v":0.077,"lo":0.073,"hi":0.081}
],
"curvesD":[
{"lam":"2","x":0.5,"y":1.33},{"lam":"2","x":0.6,"y":1.245},{"lam":"2","x":0.7,"y":1.17},{"lam":"2","x":0.8,"y":1.105},{"lam":"2","x":0.9,"y":1.05},{"lam":"2","x":1,"y":1},{"lam":"2","x":1.1,"y":0.953},{"lam":"2","x":1.2,"y":0.908},{"lam":"2","x":1.3,"y":0.868},{"lam":"2","x":1.4,"y":0.83},{"lam":"2","x":1.5,"y":0.795},
{"lam":"1","x":0.5,"y":1},{"lam":"1","x":1.5,"y":1},
{"lam":"0.5","x":0.5,"y":0.76},{"lam":"0.5","x":0.6,"y":0.812},{"lam":"0.5","x":0.7,"y":0.862},{"lam":"0.5","x":0.8,"y":0.91},{"lam":"0.5","x":0.9,"y":0.956},{"lam":"0.5","x":1,"y":1},{"lam":"0.5","x":1.1,"y":1.042},{"lam":"0.5","x":1.2,"y":1.082},{"lam":"0.5","x":1.3,"y":1.118},{"lam":"0.5","x":1.4,"y":1.152},{"lam":"0.5","x":1.5,"y":1.183}
],
"dotsD":[
{"lam":"1","x":0.759,"y":0.988},{"lam":"1","x":0.892,"y":0.993},{"lam":"1","x":0.99,"y":0.995},{"lam":"1","x":1.087,"y":1.01},{"lam":"1","x":1.268,"y":1.013},
{"lam":"0.5","x":0.676,"y":0.849},{"lam":"0.5","x":0.843,"y":0.936},{"lam":"0.5","x":0.969,"y":0.999},{"lam":"0.5","x":1.115,"y":1.064},{"lam":"0.5","x":1.39,"y":1.151},
{"lam":"2","x":0.831,"y":1.089},{"lam":"2","x":0.929,"y":1.032},{"lam":"2","x":0.999,"y":1.002},{"lam":"2","x":1.064,"y":0.962},{"lam":"2","x":1.176,"y":0.912}
],
"curvesH":[
{"lam":"0.5","x":0.5,"y":0.154},{"lam":"0.5","x":0.6,"y":0.15},{"lam":"0.5","x":0.7,"y":0.1465},{"lam":"0.5","x":0.8,"y":0.1435},{"lam":"0.5","x":0.9,"y":0.141},{"lam":"0.5","x":1,"y":0.139},{"lam":"0.5","x":1.1,"y":0.137},{"lam":"0.5","x":1.2,"y":0.1355},{"lam":"0.5","x":1.3,"y":0.134},{"lam":"0.5","x":1.4,"y":0.1327},{"lam":"0.5","x":1.5,"y":0.1316},
{"lam":"1","x":0.5,"y":0.1},{"lam":"1","x":1.5,"y":0.0986},
{"lam":"2","x":0.5,"y":0.0404},{"lam":"2","x":0.6,"y":0.0434},{"lam":"2","x":0.7,"y":0.0463},{"lam":"2","x":0.8,"y":0.049},{"lam":"2","x":0.9,"y":0.0516},{"lam":"2","x":1,"y":0.054},{"lam":"2","x":1.1,"y":0.0566},{"lam":"2","x":1.2,"y":0.059},{"lam":"2","x":1.3,"y":0.0614},{"lam":"2","x":1.4,"y":0.0638},{"lam":"2","x":1.5,"y":0.0662}
],
"dotsH":[
{"lam":"1","x":0.759,"y":0.1048,"lo":0.0983,"hi":0.1113},{"lam":"1","x":0.892,"y":0.1099,"lo":0.1034,"hi":0.1164},{"lam":"1","x":0.99,"y":0.1104,"lo":0.1039,"hi":0.1169},{"lam":"1","x":1.087,"y":0.1087,"lo":0.1022,"hi":0.1152},{"lam":"1","x":1.268,"y":0.1005,"lo":0.094,"hi":0.107},
{"lam":"0.5","x":0.676,"y":0.1523,"lo":0.1445,"hi":0.16},{"lam":"0.5","x":0.843,"y":0.1415,"lo":0.1336,"hi":0.1494},{"lam":"0.5","x":0.969,"y":0.1402,"lo":0.1324,"hi":0.148},{"lam":"0.5","x":1.115,"y":0.138,"lo":0.1299,"hi":0.1455},{"lam":"0.5","x":1.39,"y":0.1348,"lo":0.127,"hi":0.1423},
{"lam":"2","x":0.831,"y":0.0517,"lo":0.0507,"hi":0.0527},{"lam":"2","x":0.929,"y":0.0537,"lo":0.0527,"hi":0.0547},{"lam":"2","x":0.999,"y":0.0546,"lo":0.0536,"hi":0.0556},{"lam":"2","x":1.064,"y":0.0574,"lo":0.0564,"hi":0.0584},{"lam":"2","x":1.176,"y":0.0591,"lo":0.0581,"hi":0.0601}
]
},
"columns":4,
"spacing":{"row":48,"column":86},
"bounds":"flush",
"resolve":{"scale":{"color":"independent","fill":"independent","x":"independent","y":"independent"},"legend":{"color":"independent","fill":"independent"}},
"concat":[
 {"width":248,"height":166,
  "title":{"text":"(a)\u00a0\u00a0\u00a0\u00a0Stochastic Division Timing","dx":-47},
  "encoding":{"x":{"field":"t","type":"quantitative","scale":{"domain":[0,6],"nice":false},"axis":{"values":[0,1,2,3,4,5,6],"format":"d","title":null}},
   "y":{"field":"v","type":"quantitative","scale":{"domain":[0.5,2.91],"nice":false,"zero":false},"axis":{"values":[0.5,1,1.5,2,2.5],"format":".1f","title":"⟨s⟩ (fl)","titlePadding":6}}},
  "layer":[
   {"data":{"name":"trajA"},"mark":{"type":"line","color":"#bdbdbd","strokeWidth":1.5,"clip":true},"encoding":{"detail":{"field":"k","type":"nominal"}}},
   {"data":{"name":"meanA"},"mark":{"type":"area","clip":true,"opacity":1},
    "encoding":{"y":{"field":"lo","type":"quantitative","scale":{"domain":[0.5,2.91],"nice":false,"zero":false},"axis":{"values":[0.5,1,1.5,2,2.5],"format":".1f","title":"⟨s⟩ (fl)","titlePadding":6}},"y2":{"field":"hi"},
     "fill":{"datum":"SSA","scale":{"domain":["SSA"],"range":["#55b8f5"]},
      "legend":{"title":null,"orient":"none","legendX":7,"legendY":28,"strokeColor":"rgba(0,0,0,0)","symbolType":"M-2,-0.7H2V0.7H-2Z","symbolStrokeWidth":0}}}},
   {"data":{"name":"meanA"},"mark":{"type":"line","color":"#1f77b4","strokeWidth":3,"clip":true}},
   {"data":{"name":"meanA"},"mark":{"type":"line","strokeWidth":2.5,"strokeDash":[7,3],"clip":true},
    "encoding":{"color":{"datum":"Numeric","scale":{"domain":["Numeric"],"range":["#008000"]},
      "legend":{"title":null,"orient":"none","legendX":7,"legendY":7,"strokeColor":"rgba(0,0,0,0)","symbolType":"M-2,0H2","symbolStrokeWidth":2.5,"symbolDash":[7,3]}}}}
  ]},
 {"width":248,"height":166,
  "title":{"text":"(b)\u00a0\u00a0\u00a0\u00a0\u00a0\u00a0Stochastic Starting Size","dx":-46},
  "encoding":{"x":{"field":"t","type":"quantitative","scale":{"domain":[0,6],"nice":false},"axis":{"values":[0,1,2,3,4,5,6],"format":"d","title":null}},
   "y":{"field":"v","type":"quantitative","scale":{"domain":[0.5,2.91],"nice":false,"zero":false},"axis":{"values":[0.5,1,1.5,2,2.5],"format":".1f","title":null}}},
  "layer":[
   {"data":{"name":"trajB"},"mark":{"type":"line","color":"#bdbdbd","strokeWidth":1.5,"clip":true},"encoding":{"detail":{"field":"k","type":"nominal"}}},
   {"data":{"name":"meanB"},"mark":{"type":"area","clip":true,"opacity":1},
    "encoding":{"y":{"field":"lo","type":"quantitative","scale":{"domain":[0.5,2.91],"nice":false,"zero":false},"axis":{"values":[0.5,1,1.5,2,2.5],"format":".1f","title":null}},"y2":{"field":"hi"},
     "fill":{"datum":"SSA","scale":{"domain":["SSA"],"range":["#55b8f5"]},
      "legend":{"title":null,"orient":"none","legendX":7,"legendY":28,"strokeColor":"rgba(0,0,0,0)","symbolType":"M-2,-0.7H2V0.7H-2Z","symbolStrokeWidth":0}}}},
   {"data":{"name":"meanB"},"mark":{"type":"line","color":"#1f77b4","strokeWidth":3,"clip":true}},
   {"data":{"name":"meanB"},"mark":{"type":"line","strokeWidth":2.5,"strokeDash":[7,3],"clip":true},
    "encoding":{"color":{"datum":"Numeric","scale":{"domain":["Numeric"],"range":["#008000"]},
      "legend":{"title":null,"orient":"none","legendX":7,"legendY":7,"strokeColor":"rgba(0,0,0,0)","symbolType":"M-2,0H2","symbolStrokeWidth":2.5,"symbolDash":[7,3]}}}}
  ]},
 {"width":248,"height":166,
  "title":{"text":"(c)\u00a0\u00a0\u00a0Noisy Splitting and Growth","dx":-46},
  "encoding":{"x":{"field":"t","type":"quantitative","scale":{"domain":[0,6],"nice":false},"axis":{"values":[0,1,2,3,4,5,6],"format":"d","title":null}},
   "y":{"field":"v","type":"quantitative","scale":{"domain":[0.5,2.91],"nice":false,"zero":false},"axis":{"values":[0.5,1,1.5,2,2.5],"format":".1f","title":null}}},
  "layer":[
   {"data":{"name":"trajC"},"mark":{"type":"line","color":"#bdbdbd","strokeWidth":1.5,"clip":true},"encoding":{"detail":{"field":"k","type":"nominal"}}},
   {"data":{"name":"meanC"},"mark":{"type":"area","clip":true,"opacity":1},
    "encoding":{"y":{"field":"lo","type":"quantitative","scale":{"domain":[0.5,2.91],"nice":false,"zero":false},"axis":{"values":[0.5,1,1.5,2,2.5],"format":".1f","title":null}},"y2":{"field":"hi"},
     "fill":{"datum":"SSA","scale":{"domain":["SSA"],"range":["#55b8f5"]},
      "legend":{"title":null,"orient":"top-left","offset":7,"symbolType":"M-2,-0.7H2V0.7H-2Z","symbolStrokeWidth":0}}}},
   {"data":{"name":"meanC"},"mark":{"type":"line","color":"#1f77b4","strokeWidth":3,"clip":true}}
  ]},
 {"width":248,"height":166,
  "title":{"text":"(d)\u00a0\u00a0\u00a0\u00a0\u00a0\u00a0\u00a0\u00a0\u2009Division Strategy","dx":-50,"fontSize":20.5},
  "encoding":{"x":{"field":"x","type":"quantitative","scale":{"domain":[0.447,1.549],"nice":false,"zero":false},"axis":{"values":[0.5,1,1.5],"format":".1f","title":null}},
   "y":{"field":"y","type":"quantitative","scale":{"domain":[0.749,1.351],"nice":false,"zero":false},"axis":{"values":[0.8,1,1.2],"format":".1f","title":"Δ/s̅b̅"}}},
  "layer":[
   {"data":{"name":"curvesD"},"mark":{"type":"line","strokeWidth":2.5,"clip":true},
    "encoding":{"color":{"field":"lam","type":"nominal","scale":{"domain":["0.5","1","2"],"range":["#008000","#000000","#ff0000"]},"legend":null}}},
   {"data":{"name":"dotsD"},"mark":{"type":"point","filled":true,"size":80,"stroke":"#000000","strokeWidth":1,"opacity":1},
    "encoding":{"color":{"field":"lam","type":"nominal","scale":{"domain":["0.5","1","2"],"range":["#008000","#000000","#ff0000"]},"legend":null}}},
   {"data":{"values":[{"x":0.562,"y":1.298,"txt":"λ = 2"}]},"mark":{"type":"text","angle":35,"fontSize":12.5},"encoding":{"text":{"field":"txt"}}},
   {"data":{"values":[{"x":0.574,"y":1.028,"txt":"λ = 1"}]},"mark":{"type":"text","fontSize":12.5},"encoding":{"text":{"field":"txt"}}},
   {"data":{"values":[{"x":0.599,"y":0.87,"txt":"λ = 0.5"}]},"mark":{"type":"text","angle":-37,"fontSize":12.5},"encoding":{"text":{"field":"txt"}}}
  ]},
 {"width":248,"height":166,
  "title":{"text":"(e)","dx":-46},
  "encoding":{"x":{"field":"t","type":"quantitative","scale":{"domain":[0,6],"nice":false},"axis":{"values":[0,1,2,3,4,5,6],"format":"d","title":"t/τ","titlePadding":4}},
   "y":{"field":"v","type":"quantitative","scale":{"domain":[0,0.1313],"nice":false,"zero":false},"axis":{"values":[0,0.02,0.04,0.06,0.08,0.1,0.12],"format":".2f","title":"C²ᵥ(s)","titlePadding":15}}},
  "layer":[
   {"data":{"name":"cvE"},"mark":{"type":"area","color":"#55b8f5","opacity":1,"clip":true},
    "encoding":{"y":{"field":"lo","type":"quantitative","scale":{"domain":[0,0.1313],"nice":false,"zero":false},"axis":{"values":[0,0.02,0.04,0.06,0.08,0.1,0.12],"format":".2f","title":"C²ᵥ(s)","titlePadding":15}},"y2":{"field":"hi"}}},
   {"data":{"name":"cvE"},"mark":{"type":"line","color":"#1f77b4","strokeWidth":3,"clip":true}},
   {"data":{"name":"cvE"},"mark":{"type":"line","color":"#008000","strokeWidth":2.5,"strokeDash":[7,3],"clip":true}}
  ]},
 {"width":248,"height":166,
  "title":{"text":"(f)","dx":-46},
  "encoding":{"x":{"field":"t","type":"quantitative","scale":{"domain":[0,6],"nice":false},"axis":{"values":[0,1,2,3,4,5,6],"format":"d","title":"t/τ","titlePadding":4}},
   "y":{"field":"v","type":"quantitative","scale":{"domain":[0,0.1313],"nice":false,"zero":false},"axis":{"values":[0,0.02,0.04,0.06,0.08,0.1,0.12],"format":".2f","title":null}}},
  "layer":[
   {"data":{"name":"cvF"},"mark":{"type":"area","color":"#55b8f5","opacity":1,"clip":true},
    "encoding":{"y":{"field":"lo","type":"quantitative","scale":{"domain":[0,0.1313],"nice":false,"zero":false},"axis":{"values":[0,0.02,0.04,0.06,0.08,0.1,0.12],"format":".2f","title":null}},"y2":{"field":"hi"}}},
   {"data":{"name":"cvF"},"mark":{"type":"line","color":"#1f77b4","strokeWidth":3,"clip":true}},
   {"data":{"name":"cvF"},"mark":{"type":"line","color":"#008000","strokeWidth":2.5,"strokeDash":[7,3],"clip":true}}
  ]},
 {"width":248,"height":166,
  "title":{"text":"(g)","dx":-46},
  "encoding":{"x":{"field":"t","type":"quantitative","scale":{"domain":[0,6],"nice":false},"axis":{"values":[0,1,2,3,4,5,6],"format":"d","title":"t/τ","titlePadding":4}},
   "y":{"field":"v","type":"quantitative","scale":{"domain":[0,0.1313],"nice":false,"zero":false},"axis":{"values":[0,0.02,0.04,0.06,0.08,0.1,0.12],"format":".2f","title":null}}},
  "layer":[
   {"data":{"name":"cvG"},"mark":{"type":"area","color":"#55b8f5","opacity":1,"clip":true},
    "encoding":{"y":{"field":"lo","type":"quantitative","scale":{"domain":[0,0.1313],"nice":false,"zero":false},"axis":{"values":[0,0.02,0.04,0.06,0.08,0.1,0.12],"format":".2f","title":null}},"y2":{"field":"hi"}}},
   {"data":{"name":"cvG"},"mark":{"type":"line","color":"#1f77b4","strokeWidth":3,"clip":true}}
  ]},
 {"width":248,"height":166,
  "title":{"text":"(h)","dx":-50},
  "encoding":{"x":{"field":"x","type":"quantitative","scale":{"domain":[0.447,1.549],"nice":false,"zero":false},"axis":{"values":[0.5,1,1.5],"format":".1f","title":"sb/s̅b̅","titlePadding":4}},
   "y":{"field":"y","type":"quantitative","scale":{"domain":[0.0296,0.1713],"nice":false,"zero":false},"axis":{"values":[0.05,0.1,0.15],"format":".2f","title":"C²ᵥ(Δ)","titlePadding":12}}},
  "layer":[
   {"data":{"name":"curvesH"},"mark":{"type":"line","strokeWidth":2.5,"clip":true},
    "encoding":{"color":{"field":"lam","type":"nominal","scale":{"domain":["0.5","1","2"],"range":["#008000","#000000","#ff0000"]},"legend":null}}},
   {"data":{"name":"dotsH"},"mark":{"type":"errorbar","ticks":true,"thickness":2.5,"size":8},
    "encoding":{"y":{"field":"lo","type":"quantitative","scale":{"domain":[0.0296,0.1713],"nice":false,"zero":false},"axis":{"values":[0.05,0.1,0.15],"format":".2f","title":"C²ᵥ(Δ)","titlePadding":12}},"y2":{"field":"hi"},
     "color":{"field":"lam","type":"nominal","scale":{"domain":["0.5","1","2"],"range":["#008000","#000000","#ff0000"]},"legend":null}}},
   {"data":{"name":"dotsH"},"mark":{"type":"point","filled":true,"size":80,"stroke":"#000000","strokeWidth":1,"opacity":1},
    "encoding":{"color":{"field":"lam","type":"nominal","scale":{"domain":["0.5","1","2"],"range":["#008000","#000000","#ff0000"]},"legend":null}}},
   {"data":{"values":[{"x":0.606,"y":0.16,"txt":"λ = 0.5"}]},"mark":{"type":"text","angle":8,"fontSize":12.5},"encoding":{"text":{"field":"txt"}}},
   {"data":{"values":[{"x":0.571,"y":0.1145,"txt":"λ = 1"}]},"mark":{"type":"text","fontSize":12.5},"encoding":{"text":{"field":"txt"}}},
   {"data":{"values":[{"x":0.579,"y":0.0551,"txt":"λ = 2"}]},"mark":{"type":"text","angle":-8,"fontSize":12.5},"encoding":{"text":{"field":"txt"}}}
  ]}
]
}
